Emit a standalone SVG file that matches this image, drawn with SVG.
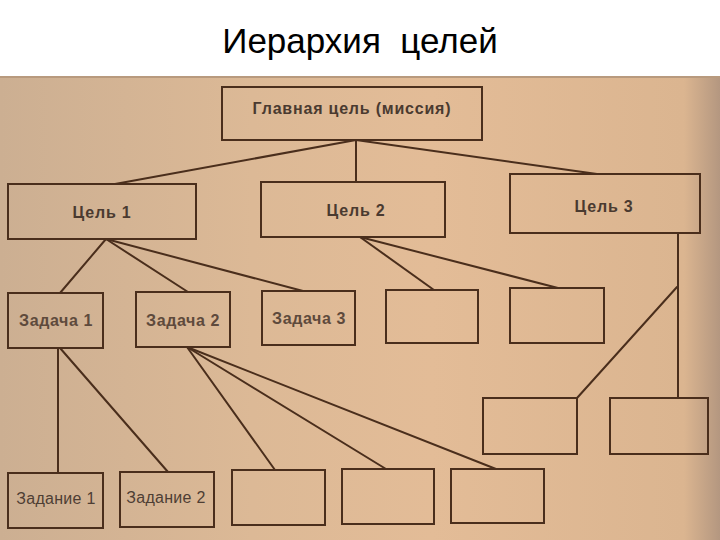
<svg xmlns="http://www.w3.org/2000/svg" width="720" height="540" viewBox="0 0 720 540">
  <defs>
    <linearGradient id="paper" x1="0" y1="0" x2="1" y2="0">
      <stop offset="0" stop-color="#ccaf92"/>
      <stop offset="0.35" stop-color="#dcb996"/>
      <stop offset="0.6" stop-color="#e3bc97"/>
      <stop offset="0.95" stop-color="#dbb590"/>
      <stop offset="1" stop-color="#b49780"/>
    </linearGradient>
    <style>
      .box { fill: none; stroke: #4a2e1c; stroke-width: 2; }
      .ln { fill: none; stroke: #4a2e1c; stroke-width: 2; stroke-linecap: round; }
      .title { font-family: "Liberation Sans", "Open Sans", sans-serif; font-size: 35px; fill: #000; text-anchor: middle; white-space: pre; }
      .bold { font-family: "Liberation Sans", Arial, sans-serif; font-size: 16px; font-weight: bold; fill: #4a3a30; text-anchor: middle; letter-spacing: 0.8px; }
      .reg { font-family: "Liberation Sans", Arial, sans-serif; font-size: 16px; font-weight: bold; fill: #5e4a3c; text-anchor: middle; letter-spacing: 0.6px; }
      .thin { font-family: "Liberation Sans", Arial, sans-serif; font-size: 16px; fill: #4e3e34; text-anchor: middle; letter-spacing: 0.3px; }
    </style>
  </defs>

  <rect x="0" y="0" width="720" height="540" fill="#ffffff"/>
  <rect x="0" y="76" width="720" height="464" fill="url(#paper)"/>
  <line x1="0" y1="77" x2="720" y2="77" stroke="#b89a7e" stroke-width="2"/>

  <text class="title" x="360" y="53" xml:space="preserve">Иерархия  целей</text>

  <g id="connectors">
    <line class="ln" x1="356" y1="140" x2="115" y2="184"/>
    <line class="ln" x1="356" y1="140" x2="356" y2="182"/>
    <line class="ln" x1="356" y1="140" x2="597" y2="174"/>
    <line class="ln" x1="106" y1="239" x2="60" y2="293"/>
    <line class="ln" x1="106" y1="239" x2="188" y2="292"/>
    <line class="ln" x1="106" y1="239" x2="303" y2="291"/>
    <line class="ln" x1="360" y1="237" x2="434" y2="290"/>
    <line class="ln" x1="360" y1="237" x2="558" y2="288"/>
    <line class="ln" x1="678" y1="233" x2="678" y2="398"/>
    <line class="ln" x1="677" y1="287" x2="577" y2="398"/>
    <line class="ln" x1="58" y1="348" x2="58" y2="473"/>
    <line class="ln" x1="60" y1="348" x2="168" y2="472"/>
    <line class="ln" x1="187" y1="347" x2="275" y2="470"/>
    <line class="ln" x1="187" y1="347" x2="386" y2="469"/>
    <line class="ln" x1="187" y1="347" x2="496" y2="469"/>
  </g>

  <g id="main">
    <rect class="box" x="222" y="87" width="260" height="53"/>
    <text class="bold" x="352" y="114">Главная цель (миссия)</text>
  </g>
  <g id="goal1">
    <rect class="box" x="8" y="184" width="188" height="55"/>
    <text class="bold" x="102" y="218">Цель 1</text>
  </g>
  <g id="goal2">
    <rect class="box" x="261" y="182" width="184" height="55"/>
    <text class="bold" x="356" y="216">Цель 2</text>
  </g>
  <g id="goal3">
    <rect class="box" x="510" y="174" width="190" height="59"/>
    <text class="bold" x="604" y="212">Цель 3</text>
  </g>

  <g id="task1">
    <rect class="box" x="8" y="293" width="95" height="55"/>
    <text class="reg" x="56" y="326">Задача 1</text>
  </g>
  <g id="task2">
    <rect class="box" x="136" y="292" width="94" height="55"/>
    <text class="reg" x="183" y="326">Задача 2</text>
  </g>
  <g id="task3">
    <rect class="box" x="262" y="291" width="93" height="54"/>
    <text class="reg" x="309" y="324">Задача 3</text>
  </g>
  <g id="task4">
    <rect class="box" x="386" y="290" width="92" height="53"/>
  </g>
  <g id="task5">
    <rect class="box" x="510" y="288" width="94" height="55"/>
  </g>

  <g id="sub-goal3-a">
    <rect class="box" x="483" y="398" width="94" height="56"/>
  </g>
  <g id="sub-goal3-b">
    <rect class="box" x="610" y="398" width="98" height="56"/>
  </g>

  <g id="job1">
    <rect class="box" x="8" y="473" width="95" height="55"/>
    <text class="thin" x="56" y="504">Задание 1</text>
  </g>
  <g id="job2">
    <rect class="box" x="120" y="472" width="94" height="55"/>
    <text class="thin" x="166" y="503">Задание 2</text>
  </g>
  <g id="job3">
    <rect class="box" x="232" y="470" width="93" height="55"/>
  </g>
  <g id="job4">
    <rect class="box" x="342" y="469" width="92" height="55"/>
  </g>
  <g id="job5">
    <rect class="box" x="451" y="469" width="93" height="54"/>
  </g>
</svg>
